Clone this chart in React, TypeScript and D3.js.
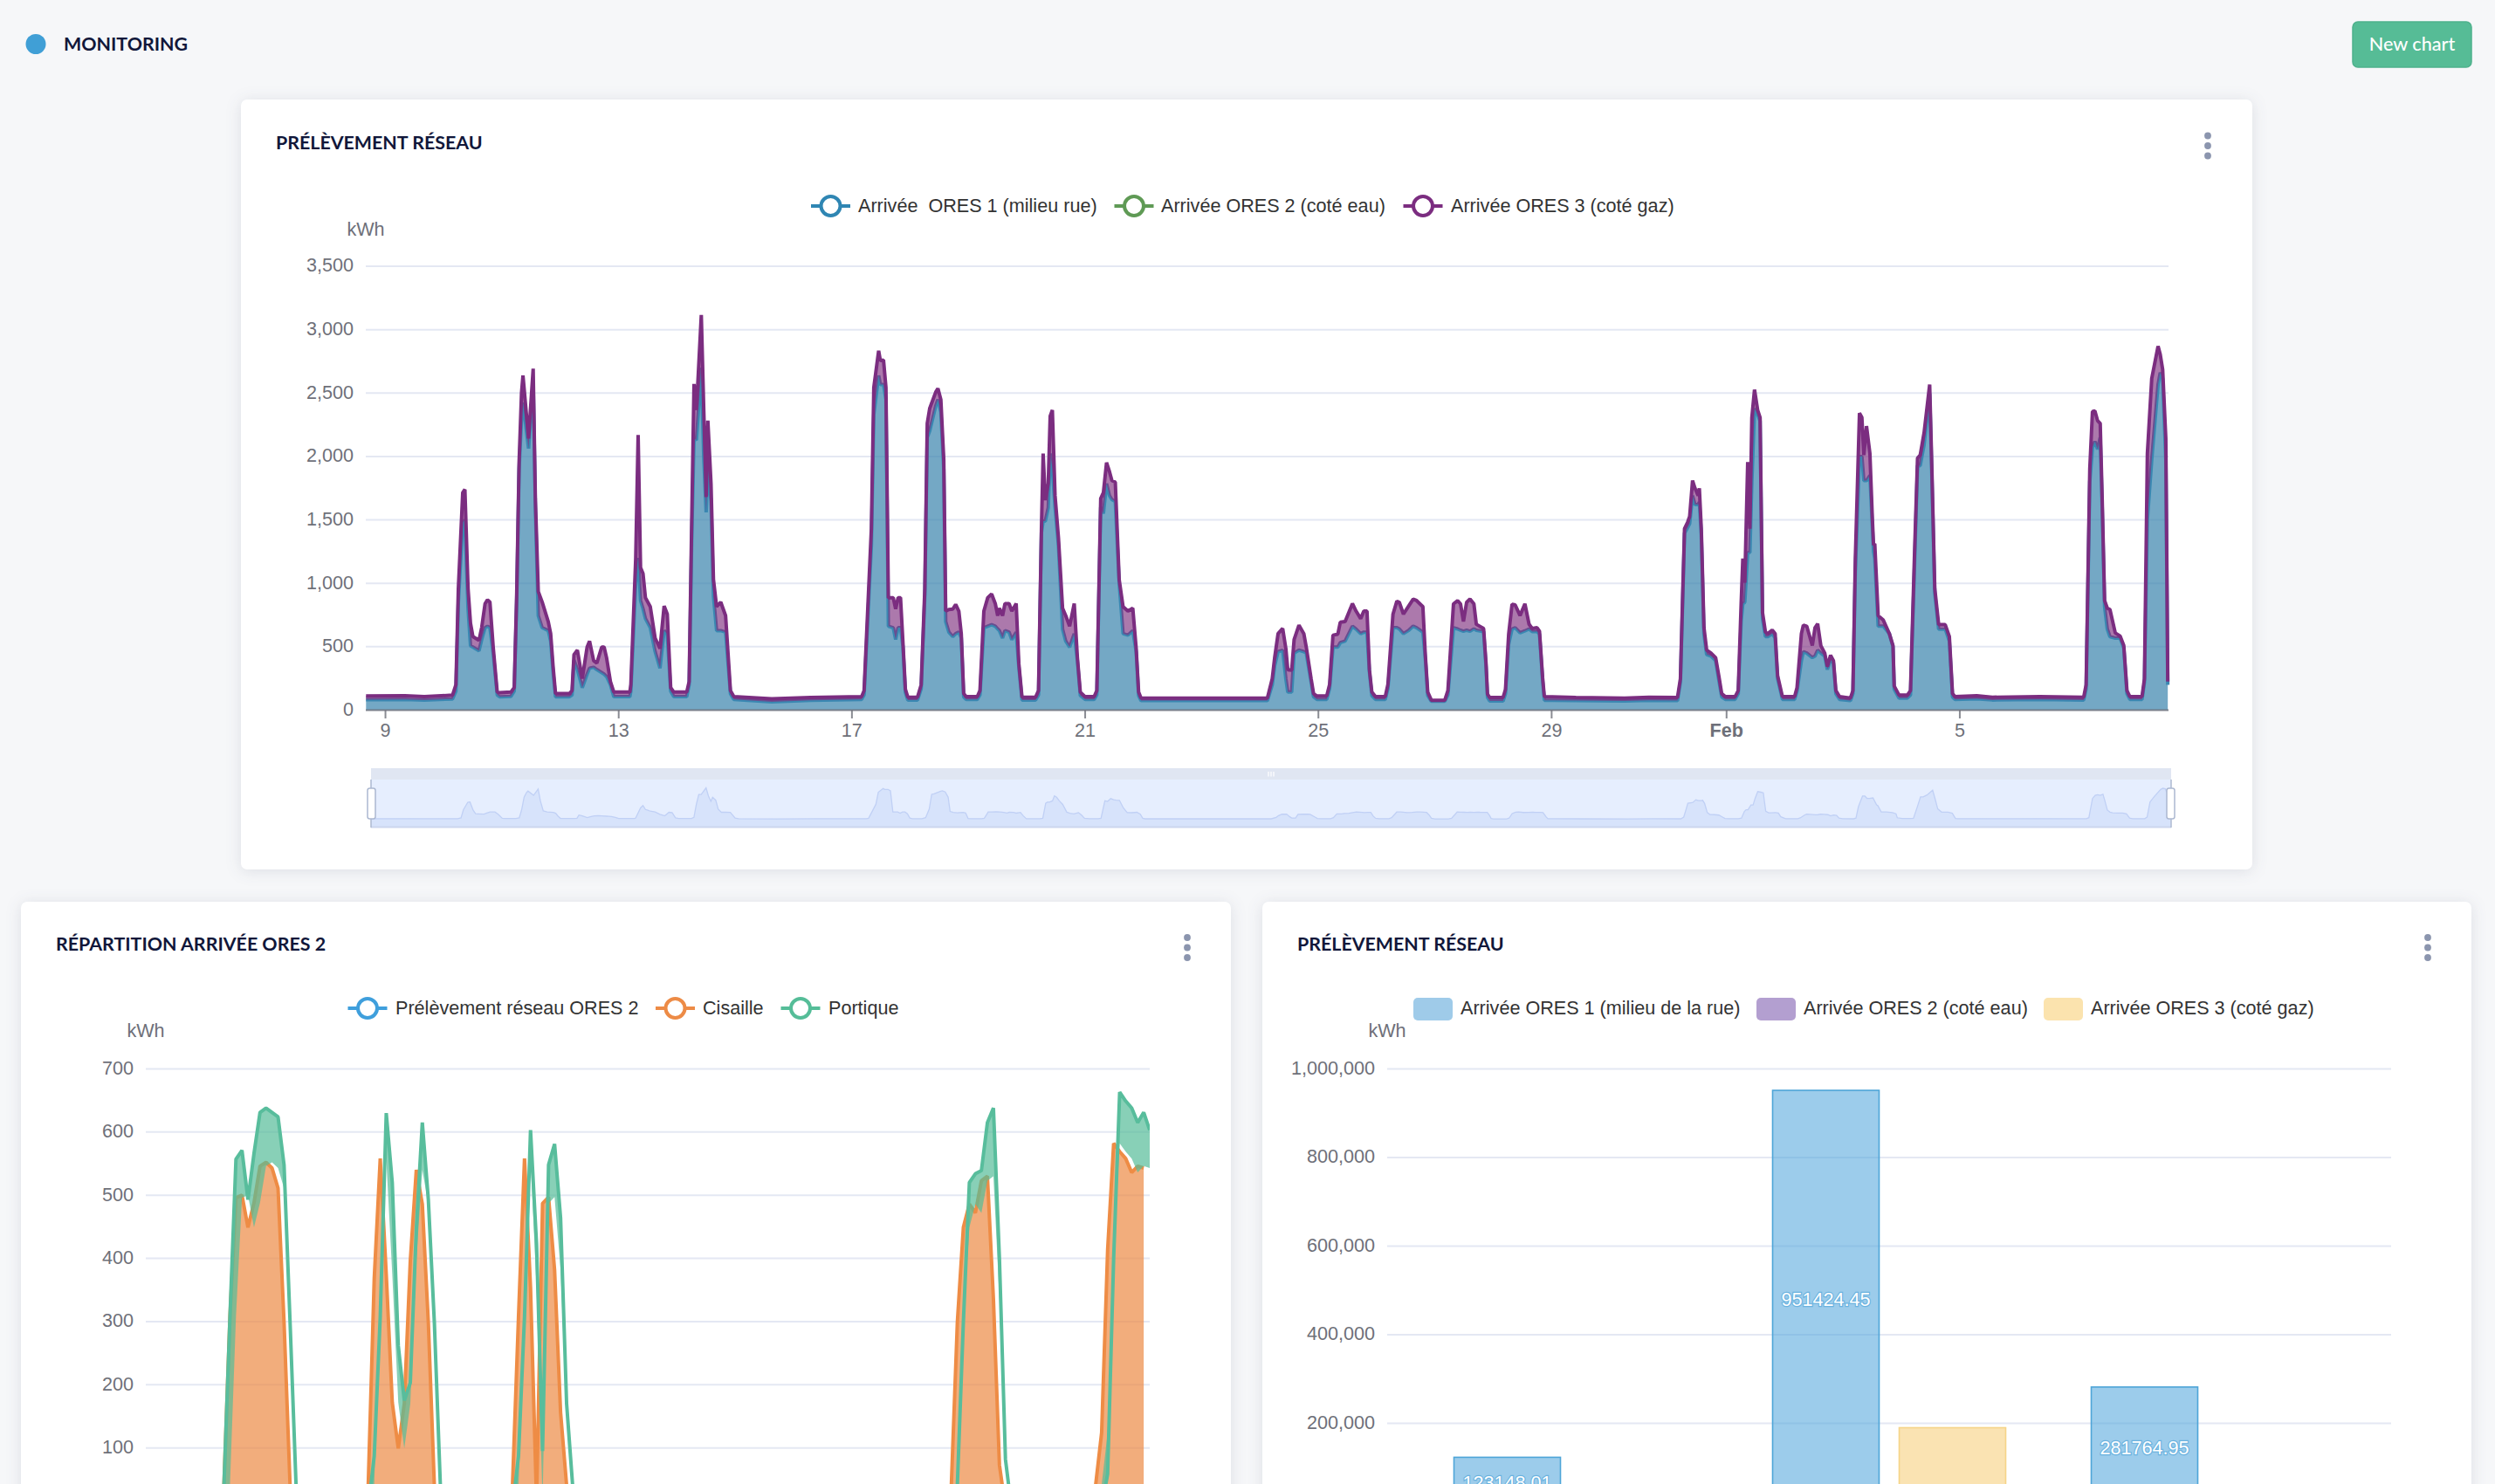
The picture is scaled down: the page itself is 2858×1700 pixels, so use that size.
import React from "react";
import * as d3 from "d3";

// ---------- Chart 1 readings: [hours since 9 Jan 00:00, top of stack (ORES 1 + ORES 3), ORES 1] ----------
type Reading = [number, number, number];
const readingsJan9to13: Reading[] = [
  [-8,111,83],[8,113,85],[16,106,80],[27.6,118,88],[29,200,150],[30,958,850],[31.8,1715,1480],[32.7,1740,1500],[34,958,800],[35,686,508],[36,580,497],[38.5,551,468],[39.6,650,556],[41,840,650],[42,870,662],[43,852,650],[44.4,485,440],[46,142,120],[47,137,105],[51.6,142,108],[53,177,150],[54,900,850],[55,1950,1900],[56,2500,2300],[56.6,2638,2425],[58.9,2141,2063],[60.8,2692,2600],[61.7,1668,1600],[62.9,935,745],[64.5,852,650],[67,698,627],[68,603,544],[69,343,300],[70,130,105],[75.7,130,105],[76.8,154,120],[77.6,438,395],[79,473,320],[81,248,177],[83,497,284],[84,544,331],[85.7,390,338],[87,371,320],[89,497,296],[90,497,284],[91,414,265],[92.6,225,200],[94,142,106],
];
const readingsJan13to17: Reading[] = [
  [100.6,142,106],[101,201,150],[103,1195,1000],[104,2170,1200],[105,1124,864],[106,1077,800],[107,887,722],[109,816,650],[111,568,461],[113,485,331],[114.7,821,627],[116,757,600],[117.4,177,150],[118.7,142,106],[124,142,106],[125,225,200],[126,1431,1300],[127,2572,2141],[128,2366,2130],[130,3116,2700],[131,2378,2000],[132,1680,1560],[132.7,2283,1900],[134,1786,1650],[135,1030,900],[136.3,816,627],[138,852,627],[140,745,615],[142,154,130],[143.4,106,85],[159,90,65],[175,100,78],
];
const readingsJan17to21: Reading[] = [
  [196,106,85],[197,154,120],[200,1431,1300],[201,2543,2330],[203,2834,2638],[203.7,2756,2567],[205,2761,2567],[206,2543,2450],[207,887,662],[209,887,650],[210,797,556],[211,887,650],[212,887,650],[213,532,500],[214,165,140],[215,102,80],[219,102,80],[220.5,200,170],[222,958,900],[223,2260,2150],[224,2378,2200],[226.5,2508,2400],[227.4,2536,2449],[228.6,2449,2350],[229.8,1976,1900],[230.6,781,698],[231.9,793,615],[233.5,797,580],[234.7,833,603],[236,781,615],[237,603,570],[238,130,105],[239,106,85],[243.6,106,85],[244.7,154,120],[246.3,781,650],[247.9,887,662],[249.5,916,674],[251,840,662],[252,745,640],[252.7,804,627],[254,745,568],[255,840,627],[256.7,840,615],[257.8,781,556],[259.6,840,615],[260.7,367,340],[262,102,80],[267.6,102,80],[268.8,154,120],[270,1431,1400],[270.7,2023,1490],[271.6,1656,1490],[272.8,1786,1597],[273.6,2319,2023],[274.5,2366,1905],[275.6,1692,1600],[277,1360,1300],[278.7,804,639],[280,745,544],[281.6,662,497],[283.5,840,603],[284.8,414,390],[286,142,115],
];
const readingsJan21to25: Reading[] = [
  [288,106,85],[291.7,106,85],[292.8,154,120],[294.4,1668,1600],[295.5,1715,1550],[296.8,1952,1786],[298,1881,1692],[299,1810,1660],[300.4,1798,1645],[302,1029,1000],[303.6,816,603],[305.6,781,591],[307.6,804,627],[309,485,460],[310,142,115],[311,95,75],[363,95,75],[365,248,200],[366,414,350],[367.4,603,461],[369.3,644,473],[370.6,485,248],[371.4,319,142],[373,315,142],[374,556,450],[376,670,473],[378,603,461],[379,497,450],[381,248,220],[382,130,105],[383.4,111,85],
];
const readingsJan25to29: Reading[] = [
  [387.4,111,85],[388.6,201,170],[390,591,497],[392,599,497],[393,693,532],[395,698,544],[398,840,662],[399.5,781,639],[401.4,722,603],[402.7,781,615],[404,781,615],[405,319,300],[406,142,115],[407.5,106,85],[411.5,106,85],[412.6,201,170],[414.7,757,650],[416.3,859,650],[417.3,850,640],[419,757,603],[421,816,627],[423,875,662],[424.4,864,650],[427,816,615],[428,438,410],[429,142,115],[430.5,78,70],[436,78,70],[437.3,154,120],[439.6,838,650],[441.3,863,640],[442.5,838,630],[443.7,700,622],[445,850,630],[446.4,876,622],[448,838,641],[449,677,630],[452,643,620],[453,368,340],[453.6,127,100],[454.5,100,72],[460,100,72],[461,162,130],[462.3,597,520],[463.7,835,640],[465,829,650],[467,746,610],[469,838,625],[470.7,678,640],[472,643,620],[474,650,620],[475,622,600],[476.3,253,230],[477,106,78],
];
const readingsJan29toFeb1: Reading[] = [
  [490,100,75],[510,95,72],[520,101,77],[531.8,99,75],[533,248,220],[534,958,900],[534.7,1431,1396],[536,1483,1440],[536.8,1526,1470],[538,1810,1692],[539,1750,1621],[540.3,1692,1621],[540.8,1750,1640],[541.6,1431,1380],[542.7,650,600],[543.8,473,438],[545.6,450,426],[547.5,414,390],[548.8,272,240],[550,130,105],[551.5,106,85],
];
const readingsFeb1to5: Reading[] = [
  [555.5,106,85],[556.8,154,130],[558,840,700],[558.7,1195,840],[559.5,1005,850],[560.7,1957,1242],[561.6,1431,1242],[562.4,2307,1800],[563.5,2527,2378],[564.8,2366,2330],[565.8,2307,2280],[566.8,769,722],[568,615,580],[569,603,580],[570.8,632,603],[572,603,568],[573,272,250],[575,106,85],[580,106,85],[581,177,150],[582.8,603,390],[583.6,670,461],[585,662,450],[587.3,509,414],[588.4,650,426],[589.5,681,473],[590.8,509,450],[592.4,450,426],[593.5,343,320],[594.8,433,402],[596,390,370],[597,154,130],[598.5,106,85],[603,95,75],[604,154,130],[605,1195,1100],[606.7,2342,2000],[607.7,2307,2000],[608.5,2011,1810],[609.6,2240,1810],[611,2023,1850],[612,1514,1450],[612.5,1301,1250],[613,1313,1195],[614.4,745,662],[616.5,710,662],[619,603,603],[620.5,509,500],[621,190,165],[623,118,95],[626.4,118,95],[627.7,154,120],[629.3,1195,1100],[630.6,1987,1928],[631.7,2011,1928],[633.3,2188,2094],[635.6,2567,2496],[636.5,1905,1850],[637.7,958,920],[639.3,674,639],[642,674,639],[643.7,580,544],[645,130,105],
];
const readingsFeb5to8: Reading[] = [
  [646,106,85],[655,114,90],[661.4,102,80],[681,106,85],[699,102,80],[700,201,170],[701.5,1905,1800],[702.6,2354,2070],[703.6,2359,2118],[704.7,2283,2058],[705.8,2260,2150],[706.6,1668,1600],[707.6,864,816],[708.7,804,640],[709.8,793,580],[712,608,568],[714,584,568],[715.5,509,490],[716.8,154,130],[718,106,85],[723,106,85],[724,248,220],[725.2,2023,1500],[727,2614,1975],[729.6,2870,2567],[730.5,2804,2662],[731.5,2685,2614],[732.8,2141,1975],[733.6,225,200],
];
const allReadings: Reading[] = [...readingsJan9to13, ...readingsJan13to17, ...readingsJan17to21, ...readingsJan21to25, ...readingsJan25to29, ...readingsJan29toFeb1, ...readingsFeb1to5, ...readingsFeb5to8];

const dayTickHours = [0, 96, 192, 288, 384, 480, 552, 648];
const dayTickLabels = ["9", "13", "17", "21", "25", "29", "Feb", "5"];

// ---------- Chart 2 samples: [hourly sample index, kWh]; idle samples are ~5 kWh ----------
type Sample = [number, number];
const cisaille: Sample[] = [
  [0,5],[12,5],[13,41],[14,308],[15,496],[16,500],[17,449],[18,488],[19,546],[20,552],[21,543],[22,511],[23,299],[24,41],[25,5],
  [36,5],[37,41],[38,368],[39,558],[40,375],[41,172],[42,99],[43,170],[44,396],[45,540],[46,486],[47,299],[48,41],[49,5],
  [60,5],[61,41],[62,308],[63,558],[64,354],[65,15],[66,487],[67,497],[68,382],[69,156],[70,41],[71,5],
  [133,5],[134,41],[135,299],[136,449],[137,486],[138,472],[139,523],[140,530],[141,336],[142,73],[143,5],
  [157,5],[158,41],[159,124],[160,414],[161,582],[162,569],[163,558],[164,536],[165,546],[166,543],
];
const portique: Sample[] = [
  [0,5],[12,5],[13,41],[14,308],[15,557],[16,571],[17,493],[18,566],[19,631],[20,638],[21,631],[22,624],[23,548],[24,299],[25,40],[26,5],
  [36,5],[37,5],[38,87],[39,308],[40,630],[41,520],[42,262],[43,175],[44,203],[45,447],[46,615],[47,493],[48,299],[49,41],[50,5],
  [60,5],[61,5],[62,87],[63,308],[64,603],[65,423],[66,95],[67,548],[68,581],[69,464],[70,170],[71,41],[72,5],
  [133,5],[134,5],[135,41],[136,299],[137,520],[138,534],[139,539],[140,615],[141,638],[142,400],[143,82],[144,5],
  [158,5],[159,5],[160,59],[161,400],[162,663],[163,649],[164,638],[165,615],[166,631],[167,603],
];

// ---------- Chart 3 ----------
const barCategories = ["A", "B", "C"];
const barOres1 = [123148.01, 951424.45, 281764.95];
const barOres3 = [0, 190000, 0];

// ---------- Legends & titles ----------
const legend1 = ["Arrivée  ORES 1 (milieu rue)", "Arrivée ORES 2 (coté eau)", "Arrivée ORES 3 (coté gaz)"];
const legend2 = ["Prélèvement réseau ORES 2", "Cisaille", "Portique"];
const legend3 = ["Arrivée ORES 1 (milieu de la rue)", "Arrivée ORES 2 (coté eau)", "Arrivée ORES 3 (coté gaz)"];

const SANS = "'Liberation Sans', Arial, sans-serif";
const LATO = "Lato, sans-serif";
const NAVY = "#11173a";
const GRID = "#E4E8F3";
const AXIS = "#6E7079";
const FS = 21.6;
const TITLE_FS = 21.4;
const MID = "0.3em";

const Card = ({ x, y, w, h }: { x: number; y: number; w: number; h: number }) => (
  <rect x={x} y={y} width={w} height={h} rx={7} fill="#fff" style={{ filter: "drop-shadow(0 2px 9px rgba(40,50,80,0.12))" }} />
);
const Dots = ({ x, y }: { x: number; y: number }) => (
  <g fill="#8b95ae">
    {[0, 1, 2].map((i) => <circle key={i} cx={x} cy={y + i * 11.5} r={3.9} />)}
  </g>
);
const LineIcon = ({ x, y, color }: { x: number; y: number; color: string }) => (
  <g>
    <line x1={x - 22.5} x2={x + 22.5} y1={y} y2={y} stroke={color} strokeWidth={4} />
    <circle cx={x} cy={y} r={11} fill="#fff" stroke={color} strokeWidth={4} />
  </g>
);
const LegendText = ({ x, y, t }: { x: number; y: number; t: string }) => (
  <text x={x} y={y} dy="0.34em" fontFamily={SANS} fontSize={FS} fill="#333" xmlSpace="preserve" style={{ whiteSpace: "pre" }}>{t}</text>
);

export default function App() {
  // ---- Chart 1 ----
  const x1 = d3.scaleLinear().domain([-8.1, 733.9]).range([419, 2484]);
  const y1 = d3.scaleLinear().domain([0, 3500]).range([813.5, 305]);
  const blueArea = d3.area<Reading>().x((d) => x1(d[0])).y0(y1(0)).y1((d) => y1(d[2]));
  const purpleArea = d3.area<Reading>().x((d) => x1(d[0])).y0((d) => y1(d[2])).y1((d) => y1(d[1]));
  const blueLine = d3.line<Reading>().x((d) => x1(d[0])).y((d) => y1(d[2]));
  const purpleLine = d3.line<Reading>().x((d) => x1(d[0])).y((d) => y1(d[1]));

  // mini overview of data zoom
  const xm = d3.scaleLinear().domain(x1.domain()).range([425, 2487]);
  const ym = d3.scaleLinear().domain([0, 2700]).range([939, 902.5]);
  const miniArea = d3.area<Reading>().x((d) => xm(d[0])).y0(948).y1((d) => ym(d[2]));
  const miniLine = d3.line<Reading>().x((d) => xm(d[0])).y((d) => ym(d[2]));

  // ---- Chart 2 ----
  const x2 = d3.scaleLinear().domain([0, 167]).range([167, 1317]);
  const y2 = d3.scaleLinear().domain([0, 700]).range([1731, 1224.4]);
  const cisailleAt = new Map(cisaille.map((d) => [d[0], d[1]]));
  const orangeArea = d3.area<Sample>().x((d) => x2(d[0])).y0(y2(0)).y1((d) => y2(d[1]));
  const orangeLine = d3.line<Sample>().x((d) => x2(d[0])).y((d) => y2(d[1]));
  const greenArea = d3.area<Sample>().x((d) => x2(d[0])).y0((d) => y2(cisailleAt.get(d[0] - 1) ?? 5)).y1((d) => y2(d[1]));
  const greenLine = d3.line<Sample>().x((d) => x2(d[0])).y((d) => y2(d[1]));

  // ---- Chart 3 ----
  const y3 = d3.scaleLinear().domain([0, 1000000]).range([1731.9, 1224.4]);
  const x3 = d3.scaleBand<string>().domain(barCategories).range([1589, 2739]).paddingOuter(0.0753).paddingInner(0);
  const barW = 122;
  const barGap = 23;

  const yTicks = (scale: d3.ScaleLinear<number, number>, values: number[], xRight: number, xGrid: [number, number], fmt: (n: number) => string) =>
    values.map((v) => (
      <g key={v}>
        <line x1={xGrid[0]} x2={xGrid[1]} y1={scale(v)} y2={scale(v)} stroke={GRID} strokeWidth={2} />
        <text x={xRight} y={scale(v)} dy={MID} textAnchor="end" fontFamily={SANS} fontSize={FS} fill={AXIS}>{fmt(v)}</text>
      </g>
    ));

  return (
    <svg width={2858} height={1700} viewBox="0 0 2858 1700" style={{ position: "absolute", left: 0, top: 0, display: "block", overflow: "hidden" }}>
      <defs>
        <clipPath id="clip2"><rect x={167} y={1200} width={1150} height={500} /></clipPath>
      </defs>
      <rect width={2858} height={1700} fill="#f6f7f9" />

      {/* Header */}
      <circle cx={41} cy={50.5} r={11.5} fill="#409fd6" />
      <text x={73} y={50} dy="0.36em" fontFamily={LATO} fontWeight={700} fontSize={TITLE_FS} fill={NAVY}>MONITORING</text>
      <rect x={2695} y={25} width={136} height={52} rx={6} fill="#56bc96" stroke="#4eb18c" strokeWidth={1.5} />
      <text x={2763} y={50} dy="0.36em" textAnchor="middle" fontFamily={LATO} fontWeight={500} fontSize={21.6} fill="#fff">New chart</text>

      {/* Card 1 */}
      <Card x={276} y={114} w={2304} h={882} />
      <text x={316} y={163} dy="0.36em" fontFamily={LATO} fontWeight={700} fontSize={TITLE_FS} fill={NAVY}>PRÉLÈVEMENT RÉSEAU</text>
      <Dots x={2529} y={155.5} />
      <LineIcon x={951.5} y={236} color="#2f86b3" />
      <LegendText x={983} y={236} t={legend1[0]} />
      <LineIcon x={1299} y={236} color="#5f9a55" />
      <LegendText x={1330} y={236} t={legend1[1]} />
      <LineIcon x={1630} y={236} color="#7b2d80" />
      <LegendText x={1662} y={236} t={legend1[2]} />
      <text x={419} y={264} dy={MID} textAnchor="middle" fontFamily={SANS} fontSize={FS} fill={AXIS}>kWh</text>

      {yTicks(y1, y1.ticks(7), 405, [419, 2484], d3.format(","))}

      <path d={blueArea(allReadings)!} fill="#3983ad" fillOpacity={0.7} />
      <path d={blueLine(allReadings)!} fill="none" stroke="#3a88b2" strokeWidth={4} strokeLinejoin="bevel" />
      <path d={purpleArea(allReadings)!} fill="#7f317f" fillOpacity={0.65} />
      <path d={purpleLine(allReadings)!} fill="none" stroke="#7b2d80" strokeWidth={4} strokeLinejoin="bevel" />

      <line x1={419} x2={2484} y1={813.5} y2={813.5} stroke={AXIS} strokeWidth={2} opacity={0.8} />
      {dayTickHours.map((h, i) => (
        <g key={h}>
          <line x1={x1(h)} x2={x1(h)} y1={813.5} y2={823} stroke={AXIS} strokeWidth={2} opacity={0.8} />
          <text x={x1(h)} y={838} dy={MID} textAnchor="middle" fontFamily={SANS} fontSize={FS} fill={AXIS} fontWeight={dayTickLabels[i] === "Feb" ? 700 : 400}>{dayTickLabels[i]}</text>
        </g>
      ))}

      {/* Data zoom */}
      <rect x={425} y={880} width={2062} height={13} fill="#e0e6f2" />
      <rect x={425} y={893} width={2062} height={55} fill="#e6eefe" />
      <path d={miniArea(allReadings)!} fill="#d7e3fb" />
      <path d={miniLine(allReadings)!} fill="none" stroke="#c0d0f5" strokeWidth={1.3} />
      <rect x={425} y={946.5} width={2062} height={2} fill="#ccd6ee" />
      <line x1={425} x2={425} y1={893} y2={948} stroke="#acb8d1" strokeWidth={1.5} />
      <line x1={2487} x2={2487} y1={893} y2={948} stroke="#acb8d1" strokeWidth={1.5} />
      {[425.5, 2486.5].map((hx) => (
        <rect key={hx} x={hx - 4.5} y={903} width={9} height={35} rx={2.5} fill="#fff" stroke="#acb8d1" strokeWidth={1.5} />
      ))}
      {[1453, 1456, 1459].map((mx) => <line key={mx} x1={mx} x2={mx} y1={884} y2={889.5} stroke="#fff" strokeWidth={1.2} />)}

      {/* Card 2 */}
      <Card x={24} y={1033} w={1386} h={700} />
      <text x={64} y={1081} dy="0.36em" fontFamily={LATO} fontWeight={700} fontSize={TITLE_FS} fill={NAVY}>RÉPARTITION ARRIVÉE ORES 2</text>
      <Dots x={1360} y={1074} />
      <LineIcon x={421} y={1155} color="#3f9fdc" />
      <LegendText x={453} y={1155} t={legend2[0]} />
      <LineIcon x={773.5} y={1155} color="#ed8b46" />
      <LegendText x={805} y={1155} t={legend2[1]} />
      <LineIcon x={917} y={1155} color="#55bd98" />
      <LegendText x={949} y={1155} t={legend2[2]} />
      <text x={167} y={1182} dy={MID} textAnchor="middle" fontFamily={SANS} fontSize={FS} fill={AXIS}>kWh</text>

      {yTicks(y2, y2.ticks(7).filter((v) => v > 0), 153, [167, 1317], d3.format("d"))}
      <g clipPath="url(#clip2)">
        <path d={orangeArea(cisaille)!} fill="#ec8a45" fillOpacity={0.7} />
        <path d={orangeLine(cisaille)!} fill="none" stroke="#ee8c45" strokeWidth={4} strokeLinejoin="bevel" />
        <path d={greenArea(portique)!} fill="#56bc98" fillOpacity={0.7} />
        <path d={greenLine(portique)!} fill="none" stroke="#58bd9c" strokeWidth={4} strokeLinejoin="bevel" />
      </g>

      {/* Card 3 */}
      <Card x={1446} y={1033} w={1385} h={700} />
      <text x={1486} y={1081} dy="0.36em" fontFamily={LATO} fontWeight={700} fontSize={TITLE_FS} fill={NAVY}>PRÉLÈVEMENT RÉSEAU</text>
      <Dots x={2781} y={1074} />
      {[
        { x: 1619, fill: "#9fcbe9", tx: 1673, t: legend3[0] },
        { x: 2012, fill: "#b39fd0", tx: 2066, t: legend3[1] },
        { x: 2341, fill: "#fbe3ae", tx: 2395, t: legend3[2] },
      ].map((l) => (
        <g key={l.x}>
          <rect x={l.x} y={1143} width={45} height={26} rx={5} fill={l.fill} />
          <LegendText x={l.tx} y={1155} t={l.t} />
        </g>
      ))}
      <text x={1589} y={1182} dy={MID} textAnchor="middle" fontFamily={SANS} fontSize={FS} fill={AXIS}>kWh</text>

      {yTicks(y3, [200000, 400000, 600000, 800000, 1000000], 1575, [1589, 2739], d3.format(","))}
      {barCategories.map((c, i) => {
        const center = x3(c)! + x3.bandwidth() / 2;
        const bx1 = center - barGap / 2 - barW;
        const bx3 = center + barGap / 2;
        return (
          <g key={c}>
            <rect x={bx1} y={y3(barOres1[i])} width={barW} height={y3(0) - y3(barOres1[i])} fill="#4aa3da" fillOpacity={0.55} stroke="#4ea5d8" strokeWidth={1.6} />
            {barOres3[i] > 0 && (
              <rect x={bx3} y={y3(barOres3[i])} width={barW} height={y3(0) - y3(barOres3[i])} fill="#f6cf7a" fillOpacity={0.58} stroke="#f6d488" strokeWidth={1.6} />
            )}
            <text x={bx1 + barW / 2} y={(y3(barOres1[i]) + y3(0)) / 2} dy="0.26em" textAnchor="middle" fontFamily={SANS} fontSize={FS}
              fill="#fff" stroke="#6bb3df" strokeWidth={2.4} style={{ paintOrder: "stroke" }}>{barOres1[i].toFixed(2)}</text>
          </g>
        );
      })}
    </svg>
  );
}
